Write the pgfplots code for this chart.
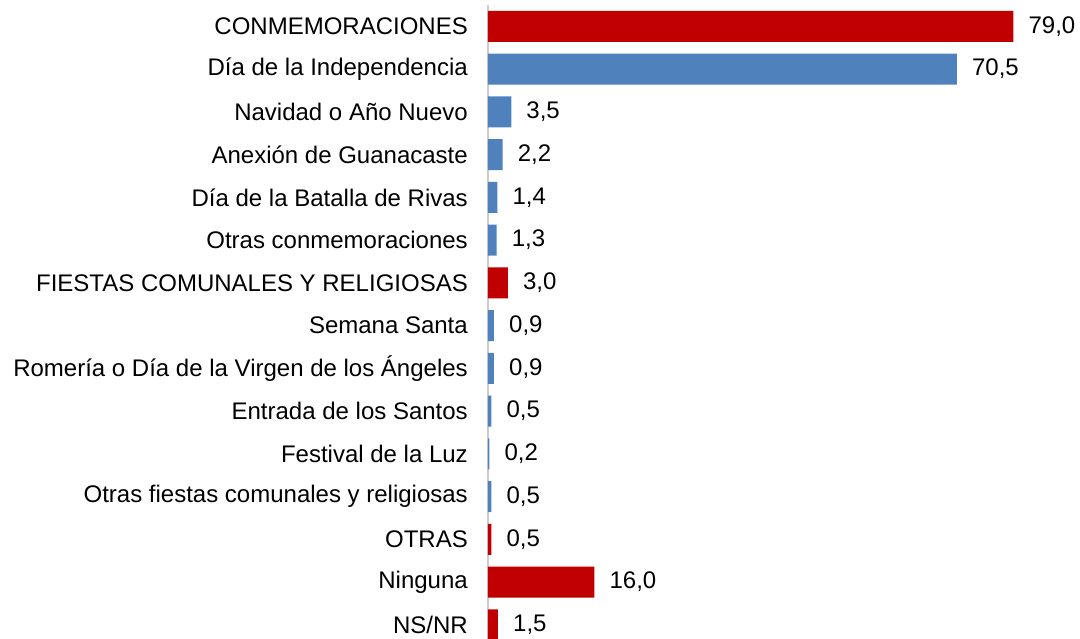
\documentclass[border=0pt]{standalone}
\usepackage{fontspec}
\setmainfont{Liberation Sans}
\usepackage{pgfplots}
\pgfplotsset{compat=1.18}
\definecolor{cred}{HTML}{C00000}
\definecolor{cblue}{HTML}{4F81BD}
\begin{document}
\fontsize{24bp}{29bp}\selectfont
\begin{tikzpicture}
\begin{axis}[
  name=ax,
  scale only axis,
  width=560bp, height=641.25bp,
  xbar, bar shift=0pt, bar width=0.725,
  xmin=0, xmax=84.2,
  ymin=-0.5, ymax=14.5, y dir=reverse,
  axis x line=none,
  axis y line=left,
  y axis line style={draw=black!20, line width=1.5bp, -},
  ytick={0,...,14},
  yticklabels={CONMEMORACIONES,Día de la Independencia,Navidad o Año Nuevo,Anexión de Guanacaste,Día de la Batalla de Rivas,Otras conmemoraciones,FIESTAS COMUNALES Y RELIGIOSAS,Semana Santa,Romería o Día de la Virgen de los Ángeles,Entrada de los Santos,Festival de la Luz,Otras fiestas comunales y religiosas,OTRAS,Ninguna,NS/NR},
  major tick length=0pt,
  ytick style={draw=none},
  yticklabel style={anchor=east, inner sep=0pt, xshift=-20bp, font=\fontsize{24bp}{29bp}\selectfont},
  nodes near coords,
  nodes near coords style={anchor=west, inner sep=0pt, xshift=15bp, text=black, font=\fontsize{24bp}{29bp}\selectfont,
    /pgf/number format/.cd, assume math mode=true, use comma, fixed, fixed zerofill, precision=1},
  clip=false,
]
\addplot[fill=cred, draw=none] coordinates {(79.0,0) (3.0,6) (0.5,12) (16.0,13) (1.5,14)};
\addplot[fill=cblue, draw=none] coordinates {(70.5,1) (3.5,2) (2.2,3) (1.4,4) (1.3,5) (0.9,7) (0.9,8) (0.5,9) (0.2,10) (0.5,11)};
\end{axis}
\pgfresetboundingbox
\path[use as bounding box] (ax.north west) ++(-488bp,5bp) rectangle ++(1080bp,-639bp);
\end{tikzpicture}
\end{document}
